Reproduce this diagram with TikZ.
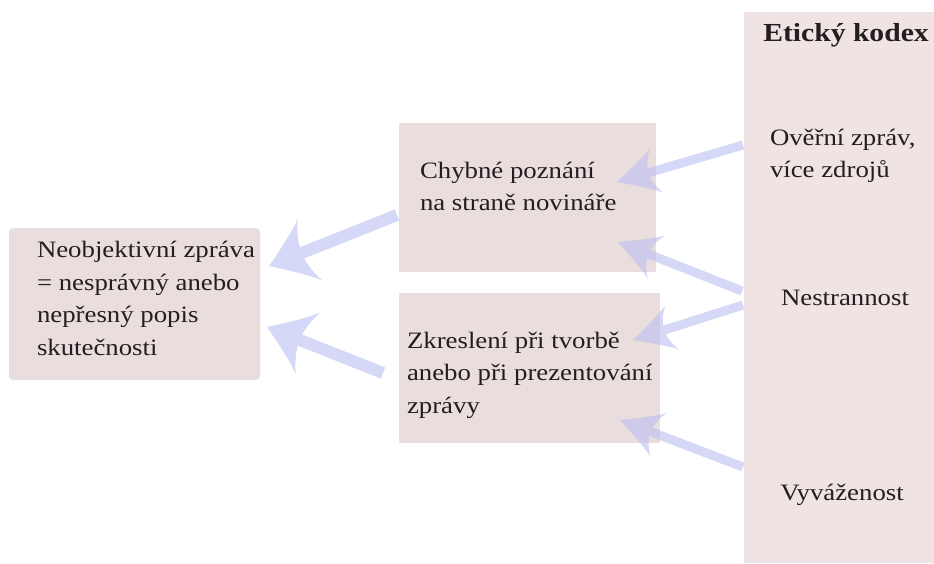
\documentclass[tikz,border=0pt]{standalone}
\usepackage{fontspec}
\setmainfont{Liberation Serif}[FakeStretch=1.14]
\usetikzlibrary{calc}
\definecolor{boxpink}{RGB}{234,221,222}
\definecolor{colpink}{RGB}{239,227,228}
\definecolor{arrowcol}{RGB}{188,192,240}
\definecolor{textcol}{RGB}{35,31,32}
% #1 tail, #2 tip, #3 head length, #4 head half width, #5 shaft width
\newcommand\fatarrow[5]{%
  \pgfmathanglebetweenpoints{\pgfpointanchor{#2}{center}}{\pgfpointanchor{#1}{center}}%
  \edef\arrang{\pgfmathresult}%
  \pgfmathsetmacro\shaftd{0.55*#3}%
  \begin{scope}[transparency group, opacity=0.62]
    \draw[arrowcol, line width=#5] (#1) -- ($(#2)!\shaftd pt!(#1)$);
    \fill[arrowcol, shift={(#2)}, rotate=\arrang]
      (0,0) .. controls ({0.4*#3},{0.36*#4}) and ({0.75*#3},{0.68*#4}) .. ({#3},{#4})
      .. controls ({0.86*#3},{0.62*#4}) and ({0.8*#3},{0.3*#4}) .. ({0.8*#3},0)
      .. controls ({0.8*#3},{-0.3*#4}) and ({0.86*#3},{-0.62*#4}) .. ({#3},{-#4})
      .. controls ({0.75*#3},{-0.68*#4}) and ({0.4*#3},{-0.36*#4}) .. (0,0) -- cycle;
  \end{scope}}
\begin{document}
\begin{tikzpicture}[x=1pt,y=-1pt,
  boxstyle/.style={fill=boxpink, inner sep=0pt, outer sep=0pt, anchor=north west},
  txt/.style={inner sep=0pt, outer sep=0pt, align=left, anchor=base west, text=textcol,
    font=\fontsize{23.5}{32.5}\selectfont},
  ctxt/.style={inner sep=0pt, outer sep=0pt, anchor=base, text=textcol,
    font=\fontsize{23.5}{32.5}\selectfont},
  head/.style={inner sep=0pt, outer sep=0pt, anchor=base, text=textcol,
    font=\fontsize{26}{30}\selectfont\bfseries}]
\useasboundingbox (0,0) rectangle (934,563);
% boxes
\node[boxstyle, fill=colpink, minimum width=190pt, minimum height=551pt] (col) at (744,12) {};
\node[boxstyle, rounded corners=4pt, minimum width=251pt, minimum height=152pt] (lbox) at (9,228) {};
\node[boxstyle, minimum width=257pt, minimum height=149pt] (mtop) at (399,123) {};
\node[boxstyle, minimum width=261pt, minimum height=150pt] (mbot) at (399,293) {};
% texts (multi-line nodes: base = last line)
\node[head] (kodex) at (846,41) {Etický kodex};
\node[txt] (ltext) at (37,355) {Neobjektivní zpráva\\= nesprávný anebo\\nepřesný popis\\skutečnosti};
\node[txt] (ttext) at (420,210.5) {Chybné poznání\\na straně novináře};
\node[txt] (btext) at (407,413) {Zkreslení při tvorbě\\anebo při prezentování\\zprávy};
\node[txt] (overeni) at (770,177.5) {Ověřní zpráv,\\více zdrojů};
\node[ctxt] (nestr) at (845,305) {Nestrannost};
\node[ctxt] (vyvaz) at (842,500) {Vyváženost};
% arrow ends
\coordinate (a1s) at (397,215); \coordinate (a1e) at (269,266);
\coordinate (a2s) at (383,373); \coordinate (a2e) at (267,327);
\coordinate (a3s) at (743,145); \coordinate (a3e) at (617,182);
\coordinate (a4s) at (742,291); \coordinate (a4e) at (618,242);
\coordinate (a5s) at (743,305); \coordinate (a5e) at (633,340);
\coordinate (a6s) at (743,467); \coordinate (a6e) at (620,420);
\fatarrow{a1s}{a1e}{44}{33}{12pt}
\fatarrow{a2s}{a2e}{44}{33}{12pt}
\fatarrow{a3s}{a3e}{41}{23}{9pt}
\fatarrow{a4s}{a4e}{41}{23}{9pt}
\fatarrow{a5s}{a5e}{41}{23}{9pt}
\fatarrow{a6s}{a6e}{41}{23}{9pt}
\end{tikzpicture}
\end{document}
